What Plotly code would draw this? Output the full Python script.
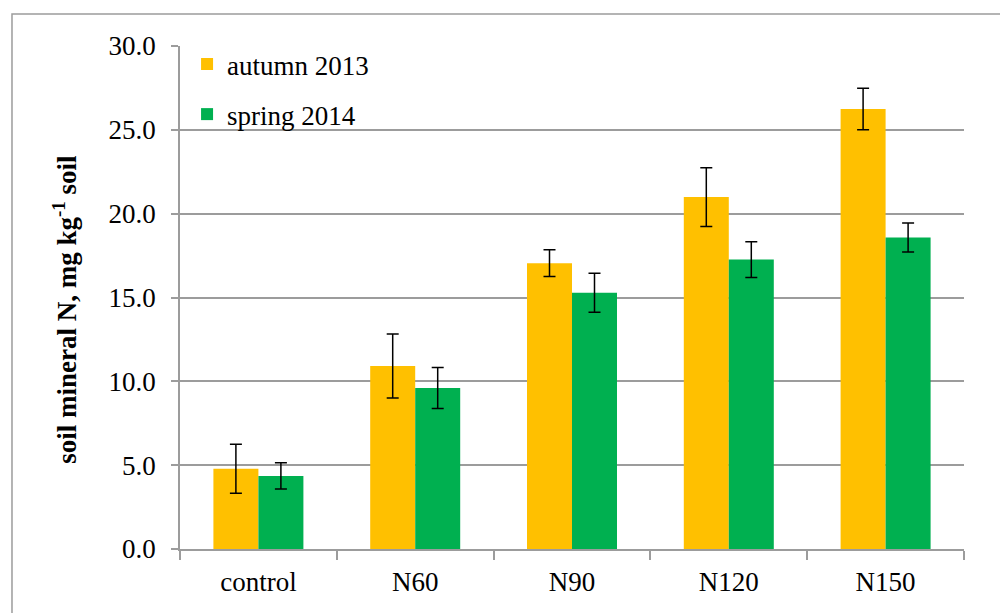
import plotly.graph_objects as go

categories = ["control", "N60", "N90", "N120", "N150"]
autumn_2013 = [4.79, 10.92, 17.05, 20.99, 26.24]
autumn_err = [1.46, 1.91, 0.80, 1.75, 1.24]
spring_2014 = [4.36, 9.60, 15.28, 17.26, 18.58]
spring_err = [0.78, 1.22, 1.16, 1.06, 0.86]
y_ticks = [0, 5, 10, 15, 20, 25, 30]

FONT = "Liberation Serif, Times New Roman, serif"
GRID = "#9c9c9c"

fig = go.Figure()
fig.add_trace(go.Bar(
    x=categories, y=autumn_2013, name="autumn 2013", legendgroup="a",
    marker=dict(color="#FFC000", line=dict(width=0)),
    error_y=dict(type="data", array=autumn_err, color="black", thickness=1.5, width=6),
))
fig.add_trace(go.Bar(
    x=categories, y=spring_2014, name="spring 2014", legendgroup="s",
    marker=dict(color="#00B050", line=dict(width=0)),
    error_y=dict(type="data", array=spring_err, color="black", thickness=1.5, width=6),
))

# page body has an 8px margin, so figure coordinates = page coordinates - 8
fig.update_layout(
    width=1008, height=613,
    margin=dict(l=172, r=52, t=38, b=72, autoexpand=False),
    paper_bgcolor="white", plot_bgcolor="white",
    barmode="group", bargap=0.426, bargroupgap=0,
    font=dict(family=FONT, size=27, color="black"),
    showlegend=True,
    legend=dict(x=0.009, y=1.012, xanchor="left", yanchor="top",
                bgcolor="rgba(0,0,0,0)", font=dict(family=FONT, size=27),
                traceorder="grouped", tracegroupgap=12, itemwidth=30),
    yaxis=dict(range=[0, 30], tickvals=y_ticks, tickformat=".1f",
               showgrid=True, gridcolor=GRID, gridwidth=1.5,
               showline=True, linecolor=GRID, linewidth=1.5,
               ticks="outside", ticklen=7, tickcolor=GRID, tickwidth=1.5,
               ticklabelstandoff=10,
               tickfont=dict(family=FONT, size=27),
               zeroline=False),
    xaxis=dict(showline=True, linecolor=GRID, linewidth=1.5,
               ticks="outside", tickson="boundaries", ticklen=9, tickcolor=GRID,
               tickwidth=1.5, ticklabelstandoff=8,
               tickfont=dict(family=FONT, size=27)),
    annotations=[dict(text="<b>soil mineral N, mg kg<sup>-1</sup> soil</b>",
                      xref="paper", yref="paper", x=-0.147, y=0.477,
                      xanchor="center", yanchor="middle", textangle=-90,
                      showarrow=False, font=dict(family=FONT, size=27))],
    shapes=[dict(type="rect", xref="paper", yref="paper",
                 x0=-0.2143, x1=1.2, y0=-0.3, y1=1.0636,
                 line=dict(color=GRID, width=1.5), fillcolor="rgba(0,0,0,0)",
                 layer="below")],
)

fig.write_html("out.html")
